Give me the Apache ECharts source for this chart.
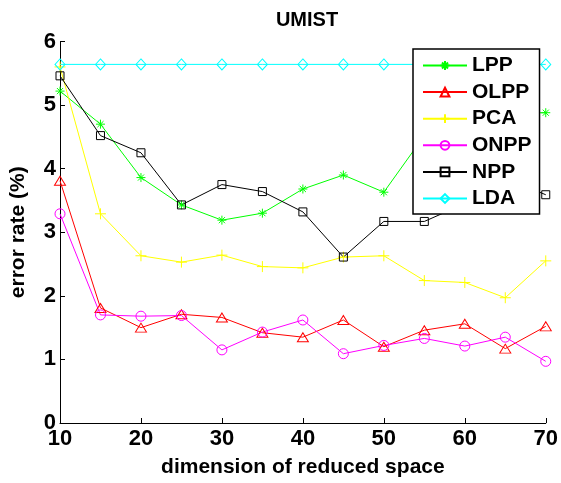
<!DOCTYPE html>
<html>
<head>
<meta charset="utf-8">
<script src="https://cdn.jsdelivr.net/npm/echarts@6/dist/echarts.min.js"></script>
<style>
  html, body { margin: 0; padding: 0; background: #fff; }
  #chart { width: 561px; height: 483px; }
</style>
</head>
<body>
<div id="chart"></div>
<script>
// Reduced-space dimensions (x axis)
const dims = [10, 15, 20, 25, 30, 35, 40, 45, 50, 55, 60, 65, 70];

// Error rates (%) per method
const lpp  = [5.22, 4.70, 3.86, 3.43, 3.19, 3.30, 3.68, 3.90, 3.63, 4.52, 4.75, 4.87, 4.88];
const olpp = [3.81, 1.81, 1.50, 1.71, 1.66, 1.42, 1.35, 1.62, 1.20, 1.46, 1.56, 1.17, 1.52];
const pca  = [5.60, 3.29, 2.63, 2.53, 2.64, 2.46, 2.44, 2.61, 2.63, 2.24, 2.21, 1.97, 2.55];
const onpp = [3.29, 1.70, 1.68, 1.69, 1.15, 1.43, 1.62, 1.09, 1.22, 1.33, 1.21, 1.35, 0.97];
const npp  = [5.46, 4.52, 4.25, 3.43, 3.75, 3.64, 3.32, 2.61, 3.17, 3.17, 3.45, 3.85, 3.59];
const lda  = [5.64, 5.64, 5.64, 5.64, 5.64, 5.64, 5.64, 5.64, 5.64, 5.64, 5.64, 5.64, 5.64];

const yTicks = [0, 1, 2, 3, 4, 5, 6];
const xTicks = [10, 20, 30, 40, 50, 60, 70];

// Unfilled marker outlines
const MARK = {
  asterisk: 'path://M5,0L5,10M0,5L10,5M1.6,1.6L8.4,8.4M8.4,1.6L1.6,8.4',
  triangle: 'path://M5,0L10,9L0,9Z',
  plus:     'path://M5,0L5,10M0,5L10,5',
  circle:   'path://M0,5A5,5,0,1,1,10,5A5,5,0,1,1,0,5Z',
  square:   'path://M0,0L10,0L10,10L0,10Z',
  diamond:  'path://M5,0L10,5L5,10L0,5Z'
};

const FONT = '"Liberation Sans", Arial, Helvetica, sans-serif';

function pairs(vals) { return dims.map((d, i) => [d, vals[i]]); }

function makeSeries(name, vals, color, symbol, size) {
  return {
    name: name,
    type: 'line',
    data: pairs(vals),
    symbol: symbol,
    symbolSize: size,
    symbolKeepAspect: true,
    showAllSymbol: true,
    color: color,
    lineStyle: { color: color, width: 1 },
    itemStyle: { color: 'rgba(0,0,0,0)', borderColor: color, borderWidth: 1 },
    emphasis: { disabled: true },
    animation: false
  };
}

const series = [
  makeSeries('LPP',  lpp,  '#00ff00', MARK.asterisk, 9),
  makeSeries('OLPP', olpp, '#ff0000', MARK.triangle, [11, 10]),
  makeSeries('PCA',  pca,  '#ffff00', MARK.plus, 11),
  makeSeries('ONPP', onpp, '#ff00ff', MARK.circle, 10),
  makeSeries('NPP',  npp,  '#000000', MARK.square, 8),
  makeSeries('LDA',  lda,  '#00ffff', MARK.diamond, [10, 11])
];

const chart = echarts.init(document.getElementById('chart'), null, { renderer: 'canvas' });
chart.setOption({
  backgroundColor: '#ffffff',
  animation: false,
  title: {
    text: 'UMIST',
    left: 302,
    top: 5,
    textAlign: 'center',
    textStyle: { fontFamily: FONT, fontWeight: 'bold', fontSize: 20, color: '#000' }
  },
  grid: { left: 55.5, right: 13.5, top: 41.5, bottom: 54, containLabel: false },
  xAxis: {
    type: 'value',
    min: xTicks[0],
    max: xTicks[xTicks.length - 1],
    interval: 10,
    name: 'dimension of reduced space',
    nameLocation: 'middle',
    nameGap: 34,
    nameTextStyle: { fontFamily: FONT, fontWeight: 'bold', fontSize: 21, color: '#000' },
    axisLine: { show: true, lineStyle: { color: '#000', width: 1 } },
    axisTick: { show: true, inside: true, length: 5, lineStyle: { color: '#000' } },
    axisLabel: { fontFamily: FONT, fontWeight: 'bold', fontSize: 22, color: '#000', margin: 5 },
    splitLine: { show: false }
  },
  yAxis: {
    type: 'value',
    min: yTicks[0],
    max: yTicks[yTicks.length - 1],
    interval: 1,
    name: 'error rate (%)',
    nameLocation: 'middle',
    nameGap: 31,
    nameTextStyle: { fontFamily: FONT, fontWeight: 'bold', fontSize: 21, color: '#000' },
    axisLine: { show: true, lineStyle: { color: '#000', width: 1 } },
    axisTick: { show: true, inside: true, length: 5, lineStyle: { color: '#000' } },
    axisLabel: { fontFamily: FONT, fontWeight: 'bold', fontSize: 22, color: '#000', margin: 4 },
    splitLine: { show: false }
  },
  legend: {
    orient: 'vertical',
    left: 413,
    top: 49,
    padding: [6, 8, 5, 9],
    itemWidth: 44,
    itemHeight: 11,
    itemGap: 5.6,
    backgroundColor: '#ffffff',
    borderColor: '#000000',
    borderWidth: 1.5,
    borderRadius: 0,
    selectedMode: false,
    textStyle: { fontFamily: FONT, fontWeight: 'bold', fontSize: 21, color: '#000', lineHeight: 20 },
    data: series.map(s => s.name)
  },
  series: series
});
</script>
</body>
</html>
